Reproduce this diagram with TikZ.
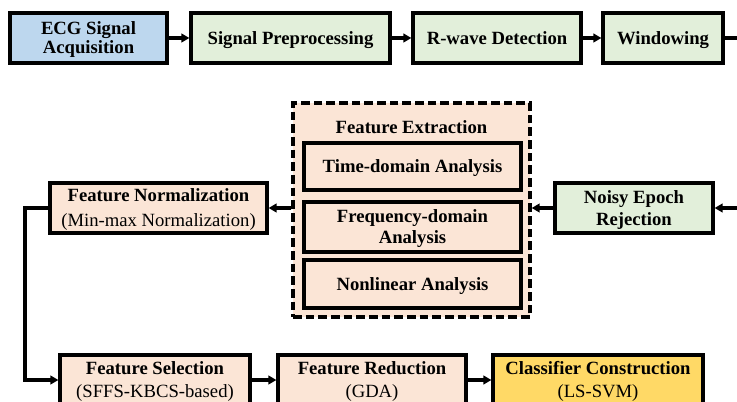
\documentclass[tikz,border=0pt]{standalone}
\usepackage{fontspec}
\setmainfont{Liberation Serif}
\usetikzlibrary{arrows.meta}
\definecolor{cblue}{HTML}{BDD7EE}
\definecolor{cgreen}{HTML}{E2EFDA}
\definecolor{cpeach}{HTML}{FBE5D6}
\definecolor{cyellow}{HTML}{FFD966}
\newcommand{\capl}[1]{\rule{0pt}{9.3pt}\smash{#1}}
\newcommand{\capm}[1]{\smash{\mdseries #1}}
\begin{document}
\begin{tikzpicture}[x=0.75pt,y=-0.75pt,
  every node/.style={font=\fontsize{14}{17}\selectfont\bfseries, align=center, inner sep=0pt},
  box/.style={draw=black, line width=2.4pt, rectangle},
  conn/.style={line width=2.3pt, -{Triangle[length=6pt,width=6.5pt]}},
  plain/.style={line width=2.3pt}]
\useasboundingbox (0,0) rectangle (737,402);
\clip (0,0) rectangle (737,402);
% top row
\node[box, fill=cblue, minimum width=117.75pt, minimum height=37.5pt, font=\fontsize{14}{14.5}\selectfont\bfseries] (ecg) at (88.5,38) {\capl{ECG Signal}\\\smash{Acquisition}};
\node[box, fill=cgreen, minimum width=149.25pt, minimum height=37.5pt] (pre) at (290.5,38) {\capl{Signal Preprocessing}};
\node[box, fill=cgreen, minimum width=126pt, minimum height=37.5pt] (rw) at (497,38) {\capl{R-wave Detection}};
\node[box, fill=cgreen, minimum width=90pt, minimum height=37.5pt] (win) at (663,38) {\capl{Windowing}};
\coordinate (outR) at (737,38);
\coordinate (inR) at (737,208);
% middle row
\node[box, fill=cgreen, minimum width=118.5pt, minimum height=37.5pt, font=\fontsize{14}{16.5}\selectfont\bfseries] (noisy) at (634,208) {\capl{Noisy Epoch}\\\smash{Rejection}};
\node[draw=black, line width=2.5pt, dash pattern=on 6.5pt off 3pt, fill=cpeach, minimum width=177.75pt, minimum height=160.5pt] (fe) at (411.5,210) {};
\node (fet) at (411.5,127) {\capl{Feature Extraction}};
\node[box, fill=cpeach, minimum width=162.75pt, minimum height=35.25pt] (tda) at (412.5,166.5) {\capl{Time-domain Analysis}};
\node[box, fill=cpeach, minimum width=162.75pt, minimum height=37.5pt, font=\fontsize{14}{15.75}\selectfont\bfseries] (fda) at (412.5,227) {\capl{Frequency-domain}\\\smash{Analysis}};
\node[box, fill=cpeach, minimum width=162.75pt, minimum height=36pt] (nla) at (412.5,284) {\capl{Nonlinear Analysis}};
\node[box, fill=cpeach, minimum width=162.75pt, minimum height=37.5pt, font=\fontsize{14}{18.75}\selectfont\bfseries] (norm) at (158.5,208) {\capl{Feature Normalization}\\\capm{(Min-max Normalization)}};
\coordinate (corner1) at (25,208);
% bottom row
\node[box, fill=cpeach, minimum width=142.5pt, minimum height=37.5pt] (sel) at (155,380) {\capl{Feature Selection}\\\capm{(SFFS-KBCS-based)}};
\node[box, fill=cpeach, minimum width=141pt, minimum height=37.5pt] (red) at (372,380) {\capl{Feature Reduction}\\\capm{(GDA)}};
\node[box, fill=cyellow, minimum width=157.5pt, minimum height=37.5pt] (cls) at (598,380) {\capl{Classifier Construction}\\\capm{(LS-SVM)}};
% connectors
\draw[conn] (ecg) -- (pre);
\draw[conn] (pre) -- (rw);
\draw[conn] (rw) -- (win);
\draw[plain] (win) -- (outR);
\draw[conn] (inR) -- (noisy);
\draw[conn] (noisy.west) -- (fe.east |- noisy.west);
\draw[conn] (fe.west |- norm.east) -- (norm.east);
\draw[conn] (norm.west) -- (corner1) |- (sel.west);
\draw[conn] (sel) -- (red);
\draw[conn] (red) -- (cls);
\end{tikzpicture}
\end{document}
